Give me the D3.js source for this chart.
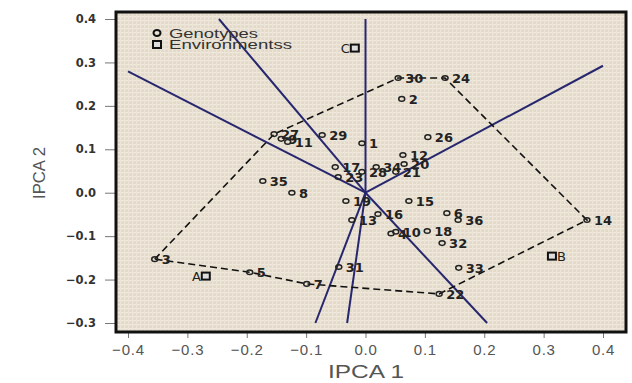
<!DOCTYPE html>
<html lang="en">
<head>
    <meta charset="UTF-8">
    <title>AMMI2 biplot</title>
    <script src="https://cdn.jsdelivr.net/npm/d3@7/dist/d3.min.js"></script>
    <style>
        body { margin: 0; background: #fff; }
    </style>
</head>
<body>
<script>

    // genotypes (IPCA 1, IPCA 2)
    var genoLabels = ["1","2","3","4","5","6","7","8","9","10","11","12","13","14","15","16","17","18",
                      "19","20","21","22","23","24","26","27","28","29","30","31","32","33","34","35","36"];
    var genoX = [-0.006, 0.061, -0.355, 0.043, -0.195, 0.137, -0.099, -0.124, -0.142, 0.051, -0.131, 0.063,
                 -0.023, 0.373, 0.073, 0.021, -0.051, 0.104, -0.033, 0.065, 0.051, 0.124, -0.046, 0.134,
                 0.105, -0.154, -0.006, -0.073, 0.055, -0.045, 0.129, 0.157, 0.018, -0.173, 0.156];
    var genoY = [0.114, 0.216, -0.153, -0.094, -0.183, -0.047, -0.210, 0.0, 0.124, -0.090, 0.117, 0.087,
                 -0.063, -0.063, -0.019, -0.049, 0.059, -0.088, -0.019, 0.066, 0.048, -0.233, 0.036, 0.264,
                 0.128, 0.135, 0.048, 0.133, 0.264, -0.171, -0.116, -0.173, 0.059, 0.027, -0.063];

    // environments
    var envLabels = ["A", "B", "C"];
    var envX = [-0.269, 0.314, -0.018];
    var envY = [-0.192, -0.146, 0.333];

    // polygon vertices (genotypes furthest from origin)
    var hullOrder = ["3", "27", "30", "24", "14", "22", "7", "5"];

    var xTicks = [-0.4, -0.3, -0.2, -0.1, 0.0, 0.1, 0.2, 0.3, 0.4];
    var yTicks = [-0.3, -0.2, -0.1, 0.0, 0.1, 0.2, 0.3, 0.4];

    // 画布
    var width = 632, height = 383;
    var svg = d3.select("body").append("svg")
        .attr("width", width)
        .attr("height", height);

    var x = d3.scaleLinear().domain([-0.4, 0.4]).range([128, 603]);
    var y = d3.scaleLinear().domain([-0.3, 0.4]).range([323, 19]);

    // frame box
    var fx0 = 116, fx1 = 626, fy0 = 12, fy1 = 332;

    var sans = "Arial, 'Liberation Sans', sans-serif";
    var wide = "'DejaVu Sans', Verdana, sans-serif";

    // canvas texture
    var defs = svg.append("defs");
    var pat = defs.append("pattern")
        .attr("id", "canvas")
        .attr("width", 4).attr("height", 4)
        .attr("patternUnits", "userSpaceOnUse");
    pat.append("rect").attr("width", 4).attr("height", 4).attr("fill", "#e2d9c8");
    pat.append("rect").attr("width", 4).attr("height", 1.3).attr("fill", "#efe9dd");
    pat.append("rect").attr("width", 1.3).attr("height", 4).attr("fill", "#ece5d7");

    svg.append("rect")
        .attr("x", fx0).attr("y", fy0)
        .attr("width", fx1 - fx0).attr("height", fy1 - fy0)
        .attr("fill", "url(#canvas)");

    // axes
    var xAxis = d3.axisBottom(x).tickValues(xTicks).tickSize(6).tickPadding(4)
        .tickFormat(d3.format(".1f"));
    var gx = svg.append("g").attr("transform", "translate(0," + fy1 + ")").call(xAxis);
    gx.select(".domain").remove();
    gx.selectAll("line").attr("stroke", "#777");
    gx.selectAll("text")
        .attr("font-family", sans)
        .attr("font-size", 15)
        .attr("letter-spacing", 0.8)
        .attr("fill", "#555")
        .attr("dy", "0.85em");

    var yAxis = d3.axisLeft(y).tickValues(yTicks).tickSize(11).tickPadding(9)
        .tickFormat(d3.format(".1f"));
    var gy = svg.append("g").attr("transform", "translate(" + fx0 + ",0)").call(yAxis);
    gy.select(".domain").remove();
    gy.selectAll("line").attr("stroke", "#777");
    gy.selectAll("text")
        .attr("font-family", wide)
        .attr("font-size", 11.5)
        .attr("font-weight", "bold")
        .attr("fill", "#333");

    // axis titles
    svg.append("text")
        .attr("x", 366).attr("y", 378)
        .attr("text-anchor", "middle")
        .attr("font-family", sans)
        .attr("font-size", 19)
        .attr("textLength", 76)
        .attr("lengthAdjust", "spacingAndGlyphs")
        .attr("fill", "#555")
        .text("IPCA 1");

    svg.append("text")
        .attr("transform", "translate(45,173) rotate(-90)")
        .attr("text-anchor", "middle")
        .attr("font-family", sans)
        .attr("font-size", 16)
        .attr("textLength", 52)
        .attr("lengthAdjust", "spacingAndGlyphs")
        .attr("fill", "#555")
        .text("IPCA 2");

    // genotype lookup
    var geno = genoLabels.map(function (d, i) {
        return { label: d, x: genoX[i], y: genoY[i] };
    });
    var byLabel = {};
    geno.forEach(function (g) { byLabel[g.label] = g; });
    var hull = hullOrder.map(function (l) { return byLabel[l]; });

    // rays from origin perpendicular to each polygon side, to the tick range
    var rays = [];
    for (var i = 0; i < hull.length; i++) {
        var p1 = hull[i], p2 = hull[(i + 1) % hull.length];
        var dx = p2.x - p1.x, dy = p2.y - p1.y;
        var nx = dy, ny = -dx;
        if (nx * p1.x + ny * p1.y < 0) { nx = -nx; ny = -ny; }
        var t = Infinity;
        if (nx > 0) t = Math.min(t, 0.4 / nx);
        if (nx < 0) t = Math.min(t, -0.4 / nx);
        if (ny > 0) t = Math.min(t, 0.4 / ny);
        if (ny < 0) t = Math.min(t, -0.3 / ny);
        rays.push({ x: nx * t, y: ny * t, side: [p1.label, p2.label] });
    }
    // 7-5 and 5-3 are one edge in the picture; keep a single ray for them
    rays = rays.filter(function (r) { return !(r.side[0] === "5" && r.side[1] === "3"); });

    svg.append("g").selectAll("line")
        .data(rays)
        .enter().append("line")
        .attr("x1", x(0)).attr("y1", y(0))
        .attr("x2", function (d) { return x(d.x); })
        .attr("y2", function (d) { return y(d.y); })
        .attr("stroke", "#27276f")
        .attr("stroke-width", 2);

    // dashed polygon
    svg.append("path")
        .attr("d", d3.line()
            .x(function (d) { return x(d.x); })
            .y(function (d) { return y(d.y); })(hull) + "Z")
        .attr("fill", "none")
        .attr("stroke", "#111")
        .attr("stroke-width", 1.6)
        .attr("stroke-dasharray", "7,4");

    // genotype markers + labels
    var gg = svg.append("g");
    gg.selectAll("ellipse")
        .data(geno)
        .enter().append("ellipse")
        .attr("cx", function (d) { return x(d.x); })
        .attr("cy", function (d) { return y(d.y); })
        .attr("rx", 3).attr("ry", 2.3)
        .attr("fill", "none")
        .attr("stroke", "#222")
        .attr("stroke-width", 1.5);
    gg.selectAll("text")
        .data(geno)
        .enter().append("text")
        .attr("x", function (d) { return x(d.x) + 7; })
        .attr("y", function (d) { return y(d.y) + 5; })
        .attr("font-family", wide)
        .attr("font-size", 13)
        .attr("font-weight", "bold")
        .attr("fill", "#222")
        .text(function (d) { return d.label; });

    // environment markers + labels
    var env = envLabels.map(function (d, i) { return { label: d, x: envX[i], y: envY[i] }; });
    var ge = svg.append("g");
    ge.selectAll("rect")
        .data(env)
        .enter().append("rect")
        .attr("x", function (d) { return x(d.x) - 4; })
        .attr("y", function (d) { return y(d.y) - 3.5; })
        .attr("width", 8).attr("height", 7)
        .attr("fill", "#ddd")
        .attr("stroke", "#111")
        .attr("stroke-width", 2);
    ge.selectAll("text")
        .data(env)
        .enter().append("text")
        .attr("x", function (d) { return d.label === "B" ? x(d.x) + 5 : x(d.x) - 5; })
        .attr("y", function (d) { return y(d.y) + 5; })
        .attr("text-anchor", function (d) { return d.label === "B" ? "start" : "end"; })
        .attr("font-family", wide)
        .attr("font-size", 13)
        .attr("fill", "#222")
        .text(function (d) { return d.label; });

    // legend
    var leg = svg.append("g").attr("transform", "translate(157,33)");
    leg.append("ellipse").attr("cx", 0).attr("cy", 0).attr("rx", 3.5).attr("ry", 3)
        .attr("fill", "none").attr("stroke", "#111").attr("stroke-width", 2);
    leg.append("rect").attr("x", -4).attr("y", 8).attr("width", 8).attr("height", 7)
        .attr("fill", "#ddd").attr("stroke", "#111").attr("stroke-width", 2);
    leg.append("text").attr("x", 12).attr("y", 5)
        .attr("font-family", sans)
        .attr("font-size", 13)
        .attr("textLength", 89)
        .attr("lengthAdjust", "spacingAndGlyphs")
        .attr("fill", "#333")
        .text("Genotypes");
    leg.append("text").attr("x", 12).attr("y", 16)
        .attr("font-family", sans)
        .attr("font-size", 13)
        .attr("textLength", 123)
        .attr("lengthAdjust", "spacingAndGlyphs")
        .attr("fill", "#333")
        .text("Environmentss");

    // frame
    svg.append("rect")
        .attr("x", fx0).attr("y", fy0)
        .attr("width", fx1 - fx0).attr("height", fy1 - fy0)
        .attr("fill", "none")
        .attr("stroke", "#111")
        .attr("stroke-width", 3);

</script>
</body>
</html>
